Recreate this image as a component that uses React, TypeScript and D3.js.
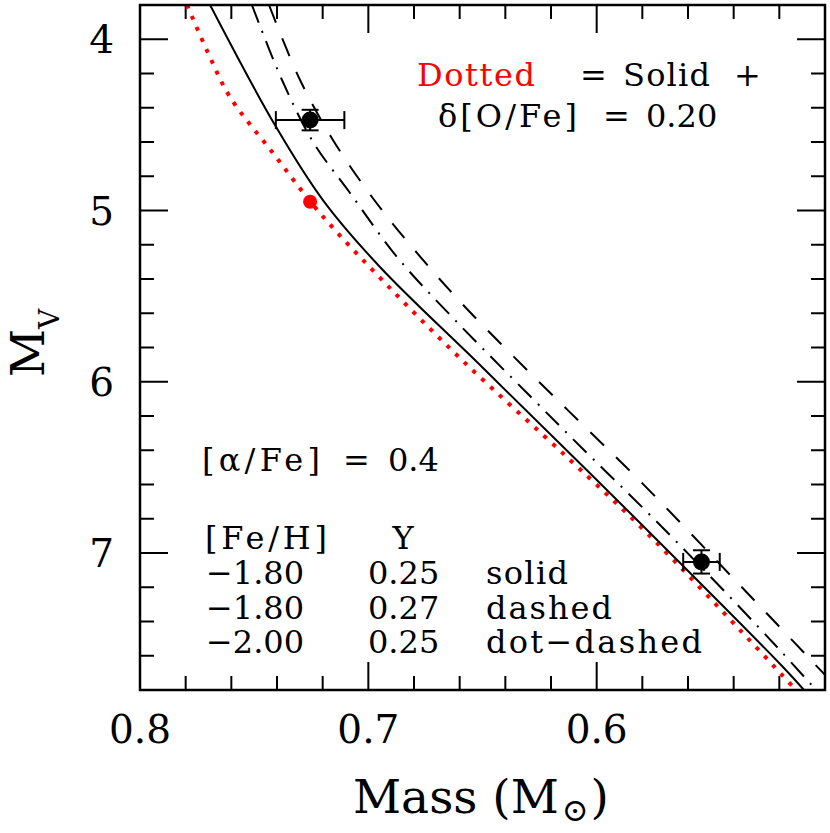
import React from 'react';
import * as d3 from 'd3';

const W = 830;
const H = 833;

// Axis domains and ticks
const massDomain = [0.8, 0.5];
const mvDomain = [3.8, 7.8];
const xTickLabels = ['0.8', '0.7', '0.6'];
const xTickValues = [0.8, 0.7, 0.6];
const yTickLabels = ['4', '5', '6', '7'];
const yTickValues = [4, 5, 6, 7];

// Solid: [Fe/H]=-1.80, Y=0.25
const solidMass = [0.7693, 0.7409, 0.7199, 0.6949, 0.6502, 0.5867, 0.5184, 0.5092];
const solidMv = [3.80, 4.501, 4.939, 5.330, 5.914, 6.749, 7.666, 7.80];

// Dashed: [Fe/H]=-1.80, Y=0.27
const dashedMass = [0.7435, 0.7299, 0.7155, 0.6984, 0.6787, 0.6568, 0.6274, 0.6042, 0.5806, 0.5390, 0.5153, 0.5000, 0.4952];
const dashedMv = [3.80, 4.238, 4.588, 4.921, 5.248, 5.575, 5.972, 6.276, 6.585, 7.164, 7.496, 7.712, 7.777];

// Dot-dashed: [Fe/H]=-2.00, Y=0.25
const dotDashMass = [0.7510, 0.7378, 0.7242, 0.7080, 0.6874, 0.6629, 0.6305, 0.6047, 0.5788, 0.5517, 0.5210, 0.5039];
const dotDashMv = [3.80, 4.238, 4.600, 4.898, 5.272, 5.628, 6.066, 6.410, 6.749, 7.117, 7.549, 7.80];

// Dotted (red): Solid + d[O/Fe]=0.20
const dottedMass = [0.7794, 0.7702, 0.7606, 0.7418, 0.7212, 0.6927, 0.6590, 0.6126, 0.5780, 0.5372, 0.5127];
const dottedMv = [3.80, 4.080, 4.337, 4.664, 5.015, 5.423, 5.873, 6.445, 6.883, 7.450, 7.80];

// Observed binary components
const starMass = [0.7255, 0.5541];
const starMv = [4.472, 7.052];
const starMassErr = [0.015, 0.008];
const starMvErr = [0.06, 0.068];

// Red point (shifted)
const redMass = [0.7255];
const redMv = [4.949];

const FONT = 'DejaVu Serif';

export default function App() {
  const x = d3.scaleLinear().domain(massDomain).range([140, 825]);
  const y = d3.scaleLinear().domain(mvDomain).range([5, 690]);

  const line = d3
    .line<[number, number]>()
    .x((d) => x(d[0]))
    .y((d) => y(d[1]))
    .curve(d3.curveCatmullRom.alpha(0.5));

  const zip = (a: number[], b: number[]) => a.map((v, i) => [v, b[i]] as [number, number]);

  const xMinor = d3.range(0, 16).map((i) => 0.5 + i * 0.02);
  const yMinor = d3.range(0, 21).map((i) => 3.8 + i * 0.2);
  const isMajorX = (v: number) => Math.abs(v * 10 - Math.round(v * 10)) < 1e-6;
  const isMajorY = (v: number) => Math.abs(v - Math.round(v)) < 1e-6;

  const [x0, x1] = x.range();
  const [y0, y1] = y.range();

  return (
    <svg width={W} height={H} style={{ position: 'absolute', left: 0, top: 0, background: '#fff' }} fontFamily={FONT}>
      <defs>
        <clipPath id="plotclip">
          <rect x={x0} y={y0} width={x1 - x0} height={y1 - y0} />
        </clipPath>
      </defs>

      {/* ticks */}
      <g stroke="#000" strokeWidth={2}>
        {xMinor.map((v, i) => {
          const len = isMajorX(v) ? 28 : 14;
          return (
            <g key={'xt' + i}>
              <line x1={x(v)} x2={x(v)} y1={y1} y2={y1 - len} />
              <line x1={x(v)} x2={x(v)} y1={y0} y2={y0 + len} />
            </g>
          );
        })}
        {yMinor.map((v, i) => {
          const len = isMajorY(v) ? 28 : 14;
          return (
            <g key={'yt' + i}>
              <line x1={x0} x2={x0 + len} y1={y(v)} y2={y(v)} />
              <line x1={x1} x2={x1 - len} y1={y(v)} y2={y(v)} />
            </g>
          );
        })}
      </g>

      {/* curves */}
      <g clipPath="url(#plotclip)" fill="none">
        <path d={line(zip(dottedMass, dottedMv)) || ''} stroke="#ff0000" strokeWidth={4} strokeDasharray="4 8" />
        <path d={line(zip(solidMass, solidMv)) || ''} stroke="#000" strokeWidth={2} />
        <path d={line(zip(dotDashMass, dotDashMv)) || ''} stroke="#000" strokeWidth={2} strokeDasharray="19 9 2 9" />
        <path d={line(zip(dashedMass, dashedMv)) || ''} stroke="#000" strokeWidth={2} strokeDasharray="19 17" />
      </g>

      {/* error bars and points */}
      <g stroke="#000" strokeWidth={2}>
        {starMass.map((m, i) => {
          const cx = x(m);
          const cy = y(starMv[i]);
          const xl = x(m + starMassErr[i]);
          const xr = x(m - starMassErr[i]);
          const yt = y(starMv[i] - starMvErr[i]);
          const yb = y(starMv[i] + starMvErr[i]);
          return (
            <g key={'pt' + i}>
              <line x1={xl} x2={xr} y1={cy} y2={cy} />
              <line x1={xl} x2={xl} y1={cy - 9} y2={cy + 9} />
              <line x1={xr} x2={xr} y1={cy - 9} y2={cy + 9} />
              <line x1={cx} x2={cx} y1={yt} y2={yb} />
              <line x1={cx - 8.5} x2={cx + 8.5} y1={yt} y2={yt} />
              <line x1={cx - 8.5} x2={cx + 8.5} y1={yb} y2={yb} />
              <circle cx={cx} cy={cy} r={8.5} fill="#000" stroke="none" />
            </g>
          );
        })}
      </g>
      {redMass.map((m, i) => (
        <circle key={'rp' + i} cx={x(m)} cy={y(redMv[i])} r={7} fill="#ff0000" />
      ))}

      {/* frame */}
      <rect x={x0} y={y0} width={x1 - x0} height={y1 - y0} fill="none" stroke="#000" strokeWidth={2.5} />

      {/* tick labels */}
      <g fontSize={39} fill="#000">
        {xTickValues.map((v, i) => (
          <text key={'xl' + i} x={x(v)} y={743} textAnchor="middle">
            {xTickLabels[i]}
          </text>
        ))}
        {yTickValues.map((v, i) => (
          <text key={'yl' + i} x={114} y={y(v) + 14} textAnchor="end">
            {yTickLabels[i]}
          </text>
        ))}
      </g>

      {/* axis labels */}
      <text x={353} y={813} fontSize={47} fill="#000">
        Mass (M<tspan fontSize={32} dy={8} dx={3}>⊙</tspan>
        <tspan dy={-8} dx={2}>)</tspan>
      </text>
      <text transform="translate(44,377) rotate(-90)" fontSize={47} fill="#000">
        M<tspan fontSize={28} dy={15}>V</tspan>
      </text>

      {/* annotations */}
      <g fontSize={32} fill="#000">
        <text x={417} y={86} fill="#ff0000" textLength={118} lengthAdjust="spacing">Dotted</text>
        <text x={580} y={86}>=</text>
        <text x={623} y={86} textLength={87} lengthAdjust="spacing">Solid</text>
        <text x={734} y={86}>+</text>
        <text x={438} y={127} textLength={139} lengthAdjust="spacing">δ[O/Fe]</text>
        <text x={603} y={127}>=</text>
        <text x={646} y={127}>0.20</text>

        <text x={202} y={471} textLength={118} lengthAdjust="spacing">[α/Fe]</text>
        <text x={343} y={471}>=</text>
        <text x={388} y={471}>0.4</text>

        <text x={205} y={549} textLength={122} lengthAdjust="spacing">[Fe/H]</text>
        <text x={403} y={549} textAnchor="middle">Y</text>

        <text x={206} y={584}>−1.80</text>
        <text x={368} y={584}>0.25</text>
        <text x={486} y={584} textLength={82} lengthAdjust="spacing">solid</text>

        <text x={206} y={618.5}>−1.80</text>
        <text x={368} y={618.5}>0.27</text>
        <text x={486} y={618.5} textLength={126} lengthAdjust="spacing">dashed</text>

        <text x={206} y={653}>−2.00</text>
        <text x={368} y={653}>0.25</text>
        <text x={486} y={653} textLength={216} lengthAdjust="spacing">dot−dashed</text>
      </g>
    </svg>
  );
}
